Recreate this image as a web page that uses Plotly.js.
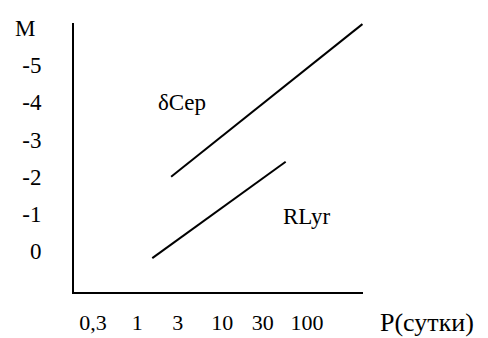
<!DOCTYPE html>
<html>
<head>
<meta charset="utf-8">
<script src="https://cdn.plot.ly/plotly-3.0.1.min.js"></script>
<style>
html,body{margin:0;padding:0;background:#fff;}
#chart{width:488px;height:338px;}
</style>
</head>
<body>
<div id="chart"></div>
<script>
// Period (days) and absolute magnitude
const cepPeriod = [2.5, 450];
const cepMag = [-2.0, -6.1];
const rrPeriod = [1.5, 56];
const rrMag = [0.19, -2.4];
const xTickVals = [0.3, 1, 3, 10, 30, 100];
const xTickText = ["0,3", "1", "3", "10", "30", "100"];
const yTickVals = [-5, -4, -3, -2, -1, 0];
const yTickText = ["-5", "-4", "-3", "-2", "-1", "0"];

const fam = "Liberation Serif, Times New Roman, serif";
const font = {family: fam, size: 23, color: "#000"};
const xfont = {family: fam, size: 22, color: "#000"};

const traces = [
  {x: cepPeriod, y: cepMag, mode: "lines", line: {color: "#000", width: 2}, hoverinfo: "skip"},
  {x: rrPeriod, y: rrMag, mode: "lines", line: {color: "#000", width: 2}, hoverinfo: "skip"}
];

const layout = {
  width: 488, height: 338,
  margin: {l: 74, r: 125, t: 23, b: 46},
  paper_bgcolor: "#fff", plot_bgcolor: "#fff",
  showlegend: false,
  font: font,
  xaxis: {
    type: "log", range: [-0.747, 2.66],
    tickvals: xTickVals, ticktext: xTickText,
    showline: true, linecolor: "#000", linewidth: 2,
    showgrid: false, zeroline: false, ticks: "", ticklabelstandoff: 10,
    tickfont: xfont, fixedrange: true
  },
  yaxis: {
    range: [1.1, -6.13],
    tickvals: yTickVals, ticktext: yTickText,
    showline: true, linecolor: "#000", linewidth: 2,
    showgrid: false, zeroline: false, ticks: "", ticklabelstandoff: 26,
    tickfont: font, fixedrange: true
  },
  annotations: [
    {text: "δCep", xref: "paper", yref: "paper", x: 0.374, y: 0.703, xanchor: "center", yanchor: "middle", showarrow: false, font: font},
    {text: "RLyr", xref: "paper", yref: "paper", x: 0.806, y: 0.279, xanchor: "center", yanchor: "middle", showarrow: false, font: font},
    {text: "P(сутки)", xref: "paper", yref: "paper", x: 1.221, y: -0.115, xanchor: "center", yanchor: "middle", showarrow: false, font: {family: fam, size: 26, color: "#000"}},
    {text: "M", xref: "paper", yref: "paper", x: -0.17, y: 0.981, xanchor: "center", yanchor: "middle", showarrow: false, font: font}
  ]
};

Plotly.newPlot("chart", traces, layout, {displayModeBar: false, staticPlot: true});
</script>
</body>
</html>
